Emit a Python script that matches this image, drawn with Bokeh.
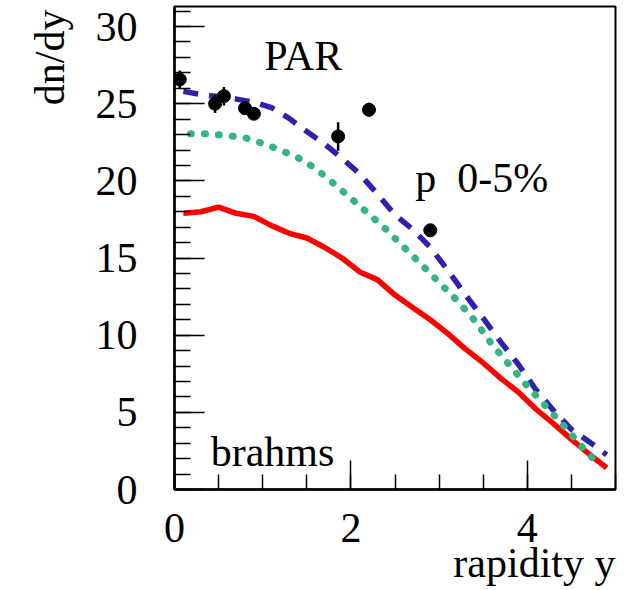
from bokeh.plotting import figure
from bokeh.models import SingleIntervalTicker, Label, Range1d, Title
from bokeh.embed import file_html
from bokeh.resources import INLINE

# data points (BRAHMS)
data_x = [0.06, 0.46, 0.56, 0.80, 0.90, 1.855, 2.205, 2.90]
data_y = [26.57, 25.0, 25.49, 24.71, 24.35, 22.88, 24.61, 16.8]
data_err = [0.58, 0.6, 0.6, 0.3, 0.3, 0.92, 0.45, 0.3]

# red solid curve
red_x = [0.1, 0.3, 0.5, 0.7, 0.9, 1.1, 1.3, 1.5, 1.7, 1.9, 2.1, 2.3, 2.5, 2.7, 2.9,
         3.1, 3.3, 3.5, 3.7, 3.9, 4.1, 4.3, 4.5, 4.7, 4.9]
red_y = [17.9, 18.0, 18.3, 17.9, 17.7, 17.1, 16.6, 16.3, 15.7, 15.0, 14.1, 13.6, 12.6,
         11.8, 11.0, 10.1, 9.1, 8.2, 7.2, 6.3, 5.2, 4.25, 3.25, 2.3, 1.4]

# blue dashed curve
blue_x = [0.1, 0.3, 0.5, 0.7, 0.9, 1.1, 1.3, 1.5, 1.7, 1.9, 2.1, 2.3, 2.5, 2.7, 2.9,
          3.1, 3.3, 3.5, 3.7, 3.9, 4.1, 4.3, 4.5, 4.7, 4.9]
blue_y = [25.8, 25.6, 25.45, 25.3, 25.1, 24.75, 24.05, 23.2, 22.4, 21.45, 20.45, 19.15,
          17.8, 16.85, 15.7, 14.2, 12.6, 11.1, 9.55, 8.1, 6.45, 5.1, 3.9, 3.1, 2.25]

# green dotted curve
green_x = [0.18, 0.4, 0.6, 0.8, 1.0, 1.2, 1.4, 1.6, 1.8, 2.0, 2.2, 2.4, 2.6, 2.8, 3.0,
           3.2, 3.4, 3.6, 3.8, 4.0, 4.2, 4.4, 4.6, 4.82]
green_y = [23.05, 23.05, 22.93, 22.8, 22.43, 22.0, 21.5, 20.8, 19.85, 18.87, 17.87, 16.85,
           15.7, 14.58, 13.42, 12.27, 10.97, 9.4, 8.05, 6.7, 5.45, 4.22, 2.89, 1.55]

x_title = "rapidity y"
y_title = "dn/dy"

FONT = "Liberation Serif"

p = figure(width=629, height=590, output_backend="svg", toolbar_location=None,
           x_range=Range1d(0, 5.0), y_range=Range1d(0, 31.3),
           min_border_left=174, min_border_right=14, min_border_top=6, min_border_bottom=101)
p.grid.visible = False
p.background_fill_color = "white"
p.border_fill_color = "white"
p.outline_line_color = "black"
p.outline_line_width = 2

p.xaxis.ticker = SingleIntervalTicker(interval=2, num_minor_ticks=4)
p.yaxis.ticker = SingleIntervalTicker(interval=5, num_minor_ticks=5)
for ax in (p.xaxis[0], p.yaxis[0]):
    ax.axis_line_width = 2.5
    ax.axis_line_color = "black"
    ax.major_tick_out = 0
    ax.minor_tick_out = 0
    ax.major_tick_line_color = "black"
    ax.minor_tick_line_color = "black"
    ax.major_tick_line_width = 1.5
    ax.minor_tick_line_width = 1.5
    ax.major_label_text_font = FONT
    ax.major_label_text_font_size = "42px"
    ax.major_label_text_color = "black"
p.xaxis.major_tick_in = 29
p.xaxis.minor_tick_in = 15
p.yaxis.major_tick_in = 30
p.yaxis.minor_tick_in = 16
p.yaxis.major_label_standoff = 37
p.xaxis.major_label_standoff = 24

# axis titles, aligned to the far end of each axis
p.add_layout(Title(text=x_title, align="right", standoff=-14, text_font=FONT,
                   text_font_size="42px", text_font_style="normal",
                   text_color="black"), "below")
p.add_layout(Title(text=y_title, align="right", standoff=40, offset=3, text_font=FONT,
                   text_font_size="42px", text_font_style="normal",
                   text_color="black"), "left")

# curves
p.line(red_x, red_y, line_color="red", line_width=5.5)
p.line(blue_x, blue_y, line_color="#3020b0", line_width=5.5, line_dash="15 11")
p.line(green_x, green_y, line_color="#36b584", line_width=7, line_dash="1 13",
       line_cap="round")

# data with error bars
p.segment(x0=data_x, y0=[y - e for y, e in zip(data_y, data_err)],
          x1=data_x, y1=[y + e for y, e in zip(data_y, data_err)],
          line_color="black", line_width=2.5)
p.scatter(data_x, data_y, size=13, fill_color="black", line_color="black")


# texts inside the frame
def lab(text, x, y, align="left"):
    p.add_layout(Label(x=x, y=y, text=text, text_font=FONT, text_font_size="42px",
                       text_color="black", text_align=align, text_baseline="alphabetic"))


lab("PAR", 1.46, 28.1, align="center")
lab("p\u00a0 0-5%", 2.73, 20.2)
lab("brahms", 0.41, 2.46)

open("out.html", "w").write(file_html(p, INLINE))
